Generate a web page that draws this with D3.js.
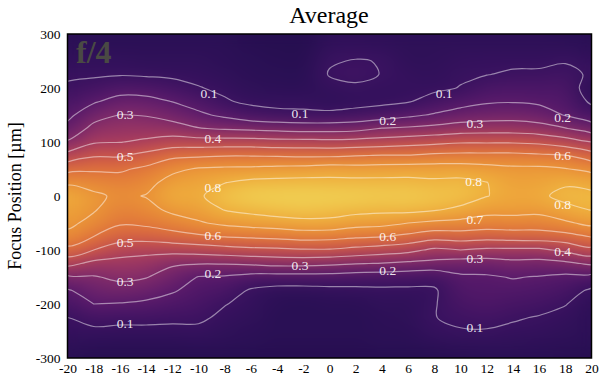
<!DOCTYPE html>
<html>
<head>
<meta charset="utf-8">
<style>
	html, body { margin: 0; padding: 0; background: white; }
	text { font-family: "Liberation Serif", "Times New Roman", serif; }
</style>
<script src="https://cdn.jsdelivr.net/npm/d3@7"></script>
</head>
<body>
<div id="chart"></div>
<script>
"use strict";

/*** DATA ***/

const chartTitle = "Average";
const yTitle = "Focus Position [µm]";
const panelTag = "f/4";

const xValues = d3.range(-20, 21, 2);
const yValues = d3.range(300, -301, -25);
const contourLevels = [0.1, 0.2, 0.3, 0.4, 0.5, 0.6, 0.7, 0.8];

// one list per x position, top (300) to bottom (-300)
const zColumns = [
	[.05,.06,.075,.09,.11,.144,.178,.226,.31,.435,.57,.68,.78,.75,.72,.675,.57,.43,.283,.19,.145,.10,.085,.065,.05],
	[.05,.06,.075,.09,.13,.19,.26,.33,.39,.49,.585,.66,.72,.708,.674,.60,.5,.372,.293,.247,.2,.13,.085,.06,.04],
	[.05,.06,.075,.095,.16,.234,.303,.35,.397,.49,.585,.645,.68,.65,.61,.545,.44,.37,.32,.26,.195,.125,.08,.055,.04],
	[.05,.06,.07,.09,.155,.23,.295,.35,.417,.53,.62,.665,.705,.667,.62,.543,.427,.36,.305,.243,.183,.125,.08,.055,.04],
	[.05,.06,.07,.085,.135,.198,.265,.34,.445,.578,.675,.74,.78,.723,.653,.56,.436,.313,.257,.209,.163,.118,.08,.055,.04],
	[.05,.06,.07,.08,.104,.158,.219,.305,.444,.585,.71,.76,.785,.745,.69,.583,.445,.305,.196,.168,.141,.113,.085,.06,.04],
	[.05,.055,.06,.07,.085,.108,.18,.29,.445,.595,.718,.797,.855,.805,.72,.605,.46,.306,.19,.147,.103,.085,.07,.055,.04],
	[.04,.045,.05,.055,.065,.085,.14,.28,.445,.595,.72,.825,.89,.83,.74,.615,.475,.315,.165,.09,.08,.07,.06,.05,.04],
	[.04,.04,.045,.05,.06,.08,.12,.27,.435,.59,.73,.83,.905,.85,.755,.625,.48,.33,.16,.07,.055,.05,.05,.045,.04],
	[.04,.04,.045,.05,.06,.08,.115,.26,.435,.585,.735,.835,.91,.86,.77,.64,.49,.33,.16,.07,.05,.05,.05,.045,.04],
	[.06,.075,.095,.104,.08,.07,.115,.26,.43,.585,.75,.83,.905,.85,.77,.635,.49,.32,.16,.075,.055,.05,.05,.045,.04],
	[.06,.08,.103,.115,.09,.075,.127,.269,.437,.595,.743,.83,.895,.835,.74,.615,.47,.305,.15,.08,.055,.05,.05,.045,.04],
	[.06,.075,.098,.098,.085,.08,.15,.305,.445,.605,.745,.83,.885,.825,.73,.605,.45,.295,.145,.085,.07,.06,.055,.05,.04],
	[.06,.065,.07,.08,.085,.095,.18,.315,.46,.605,.75,.83,.88,.83,.70,.575,.43,.28,.14,.085,.07,.065,.06,.05,.04],
	[.06,.065,.07,.075,.085,.13,.21,.33,.475,.62,.75,.82,.865,.81,.68,.54,.38,.27,.13,.09,.095,.098,.085,.06,.04],
	[.06,.07,.08,.09,.103,.165,.24,.35,.49,.625,.75,.825,.85,.78,.67,.55,.4,.25,.186,.163,.14,.116,.095,.065,.045],
	[.06,.07,.085,.098,.145,.19,.255,.355,.49,.625,.735,.802,.803,.735,.655,.54,.38,.25,.19,.175,.155,.125,.095,.07,.05],
	[.06,.07,.085,.11,.153,.195,.26,.355,.49,.625,.72,.75,.77,.735,.655,.55,.38,.27,.205,.17,.14,.108,.085,.065,.05],
	[.06,.07,.085,.112,.15,.185,.245,.34,.48,.615,.72,.755,.78,.73,.65,.555,.38,.265,.195,.16,.128,.095,.08,.06,.05],
	[.05,.07,.095,.12,.146,.17,.195,.305,.445,.605,.705,.785,.83,.77,.685,.565,.42,.28,.178,.14,.103,.08,.07,.055,.045],
	[.05,.06,.08,.09,.06,.085,.145,.25,.4,.545,.675,.765,.825,.805,.725,.605,.47,.315,.17,.085,.065,.06,.06,.05,.04]
];

// contour labels
const labelText = ["0.1","0.1","0.1","0.3","0.4","0.5","0.8","0.2","0.3","0.2","0.6","0.8","0.8","0.7","0.6","0.4","0.3","0.2","0.3","0.1","0.5","0.6","0.3","0.2","0.1"];
const labelX = [-9.2,-2.25,8.75,-15.6,-8.9,-15.6,-8.9,4.45,11.1,17.8,17.8,11,17.8,11.1,4.45,17.8,11.1,4.45,-2.25,11.1,-15.6,-8.9,-15.6,-8.9,-15.6];
const labelY = [191,154,191,152,107,74,17,141,135,146,76,28,-15,-43,-74,-102,-115,-137,-128,-243,-85,-72,-157,-144,-235];

// colour ramp
const colourDomain = [0, 0.05, 0.1, 0.2, 0.3, 0.4, 0.5, 0.6, 0.7, 0.8, 0.9];
const colourRange = ["#1c0a42", "#2a1055", "#3a1260", "#5a1a6b", "#7f2a6a", "#a83c5e", "#cc5549", "#e0743a", "#ea9337", "#efb03d", "#f0cf52"];


/*** VIEW PARAMETERS ***/

const chartWidth = 600,
	chartHeight = 381,
	padding = {top: 34, right: 8.5, bottom: 23, left: 67.5};

const plotWidth = chartWidth - padding.left - padding.right,
	plotHeight = chartHeight - padding.top - padding.bottom;

const nx = xValues.length,
	ny = yValues.length;


/*** SCALES ***/

const fn_xScale = d3.scaleLinear().domain([-20, 20]).range([padding.left, padding.left + plotWidth]);
const fn_yScale = d3.scaleLinear().domain([-300, 300]).range([padding.top + plotHeight, padding.top]);
const fn_colour = d3.scaleLinear().domain(colourDomain).range(colourRange).clamp(true);

// d3.contours puts sample i at coordinate i + 0.5
const fn_gridX = d3.scaleLinear().domain([0.5, nx - 0.5]).range(fn_xScale.range());
const fn_gridY = d3.scaleLinear().domain([0.5, ny - 0.5]).range([padding.top, padding.top + plotHeight]);


/*** HEATMAP ***/

const small = d3.create("canvas").attr("width", nx).attr("height", ny).node();
const smallCtx = small.getContext("2d");
zColumns.forEach((column, i) => {
	column.forEach((z, j) => {
		smallCtx.fillStyle = fn_colour(z);
		smallCtx.fillRect(i, j, 1, 1);
	});
});

const large = d3.create("canvas").attr("width", Math.ceil(plotWidth)).attr("height", Math.ceil(plotHeight)).node();
const largeCtx = large.getContext("2d");
largeCtx.imageSmoothingEnabled = true;
largeCtx.imageSmoothingQuality = "high";
largeCtx.drawImage(small, 0.5, 0.5, nx - 1, ny - 1, 0, 0, large.width, large.height);

// second pass, blurred, takes the grid pattern out of the gradient
const sharp = d3.create("canvas").attr("width", large.width).attr("height", large.height).node();
sharp.getContext("2d").drawImage(large, 0, 0);
largeCtx.filter = "blur(6px)";
largeCtx.drawImage(sharp, 0, 0);
largeCtx.filter = "none";


/*** DRAWING ***/

const svg = d3.select("#chart")
	.append("svg")
	.attr("width", chartWidth)
	.attr("height", chartHeight)
	.style("display", "block");

svg.append("defs")
	.append("clipPath")
	.attr("id", "plot-clip")
	.append("rect")
	.attr("x", padding.left)
	.attr("y", padding.top)
	.attr("width", plotWidth)
	.attr("height", plotHeight);

svg.append("image")
	.attr("x", padding.left)
	.attr("y", padding.top)
	.attr("width", plotWidth)
	.attr("height", plotHeight)
	.attr("preserveAspectRatio", "none")
	.attr("href", large.toDataURL());

// contour lines
const flat = [];
for (let j = 0; j < ny; j++) for (let i = 0; i < nx; i++) flat.push(zColumns[i][j]);

const contours = d3.contours().size([nx, ny]).thresholds(contourLevels)(flat);

// rounded rings, the boundary part falls outside the clip
const fn_ring = d3.line()
	.x(d => fn_gridX(d[0]))
	.y(d => fn_gridY(d[1]))
	.curve(d3.curveCatmullRomClosed.alpha(0.5));

const fn_contourPath = contour => contour.coordinates
	.flatMap(polygon => polygon.map(ring => fn_ring(ring.slice(0, -1))))
	.join("");

svg.append("g")
	.classed("contours", true)
	.attr("clip-path", "url(#plot-clip)")
	.selectAll("path")
	.data(contours)
	.join("path")
	.attr("d", fn_contourPath)
	.attr("fill", "none")
	.attr("stroke", "rgba(255,255,255,0.48)")
	.attr("stroke-width", 1.2);

// contour labels
svg.append("g")
	.classed("contour-labels", true)
	.selectAll("text")
	.data(labelText)
	.join("text")
	.attr("x", (d, i) => fn_xScale(labelX[i]))
	.attr("y", (d, i) => fn_yScale(labelY[i]))
	.attr("dy", "0.35em")
	.attr("text-anchor", "middle")
	.attr("fill", "rgba(255,255,255,0.9)")
	.style("font-size", "13.5px")
	.text(d => d);

// panel tag
svg.append("text")
	.attr("x", 76)
	.attr("y", 63)
	.attr("fill", "#4a4a44")
	.style("font-size", "32px")
	.style("font-weight", "bold")
	.text(panelTag);

// frame
svg.append("rect")
	.attr("x", padding.left)
	.attr("y", padding.top)
	.attr("width", plotWidth)
	.attr("height", plotHeight)
	.attr("fill", "none")
	.attr("stroke", "black")
	.attr("stroke-width", 1.5);

// axes
const xAxis = svg.append("g")
	.attr("transform", "translate(0," + (padding.top + plotHeight) + ")")
	.call(d3.axisBottom(fn_xScale).tickValues(xValues).tickSize(0).tickPadding(5));

const yAxis = svg.append("g")
	.attr("transform", "translate(" + padding.left + ",0)")
	.call(d3.axisLeft(fn_yScale).tickValues(d3.range(-300, 301, 100)).tickSize(0).tickPadding(7));

[xAxis, yAxis].forEach(axis => {
	axis.select(".domain").remove();
	axis.selectAll("text")
		.attr("fill", "black")
		.style("font-family", "'Liberation Serif', serif")
		.style("font-size", "13.5px")
		.text(d => d);
});

// titles
svg.append("text")
	.attr("x", 329)
	.attr("y", 23)
	.attr("text-anchor", "middle")
	.attr("fill", "black")
	.style("font-size", "24px")
	.text(chartTitle);

svg.append("text")
	.attr("transform", "translate(21,196) rotate(-90)")
	.attr("text-anchor", "middle")
	.attr("fill", "black")
	.style("font-size", "18px")
	.text(yTitle);
</script>
</body>
</html>
